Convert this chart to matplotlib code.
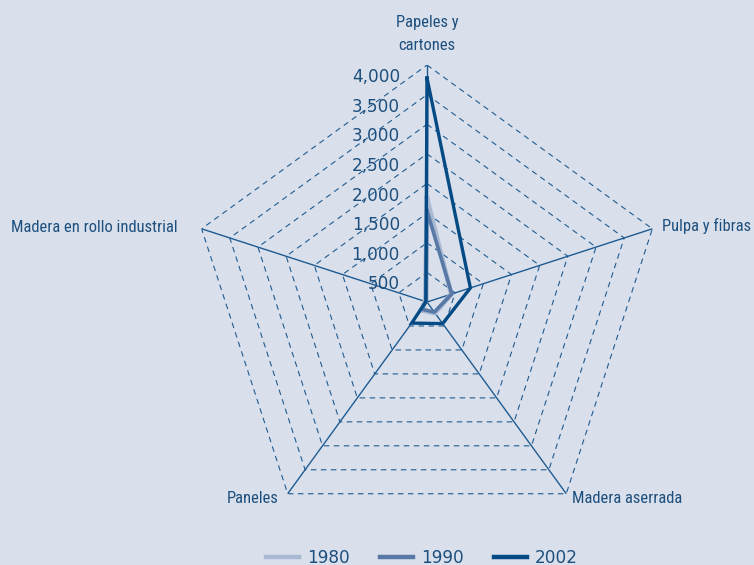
# Radar chart: forest products by year

import numpy as np
import matplotlib
matplotlib.use('Agg')
import matplotlib.pyplot as plt
from matplotlib import font_manager as fm
from matplotlib.transforms import offset_copy

# %%
# Data
categories = ['Papeles y\ncartones', 'Pulpa y fibras', 'Madera aserrada',
              'Paneles', 'Madera en rollo industrial']
years = ['1980', '1990', '2002']
v1980 = [1750, 430, 230, 170, 30]
v1990 = [1540, 440, 210, 150, 20]
v2002 = [3780, 770, 450, 440, 20]
ticks = [500, 1000, 1500, 2000, 2500, 3000, 3500, 4000]
tick_labels = ['500', '1,000', '1,500', '2,000', '2,500', '3,000', '3,500', '4,000']

# %%
# Pick a condensed face for the category labels if one is around
have = {f.name for f in fm.fontManager.ttflist}
cond = None
for c in ['Roboto Condensed', 'Fira Sans Condensed', 'Open Sans Condensed',
          'PT Sans Narrow', 'Encode Sans Condensed', 'Barlow Semi Condensed',
          'Asap Condensed', 'Archivo Narrow', 'Liberation Sans Narrow']:
    if c in have:
        cond = c
        break
if cond:
    lab_font, lab_size = [cond, 'DejaVu Sans'], 11.9
else:
    lab_font, lab_size = ['Roboto', 'DejaVu Sans'], 10

# %%
# Style
bg = '#d9e0eb'
txt = '#1d4f7e'
grid_c = '#1f5b92'
colors = ['#a9b9d3', '#5878a6', '#044a84']
widths = [3.4, 2.6, 2.4]

fig = plt.figure(figsize=(7.54, 5.65), dpi=100, facecolor=bg)
ax = fig.add_axes([0.252, 0.046, 0.6286, 0.8389], projection='polar')
ax.set_facecolor('none')
ax.set_theta_zero_location('N')
ax.set_theta_direction(-1)
ax.set_ylim(0, 4000)
ax.grid(False)
ax.spines['polar'].set_visible(False)
ax.set_xticks([])
ax.set_yticks([])

n = len(categories)
theta = np.arange(n) * 2 * np.pi / n
theta_c = np.append(theta, theta[0])

# rings
for r in ticks:
    ax.plot(theta_c, [r] * (n + 1), color=grid_c, lw=0.8,
            ls=(0, (5, 4)), zorder=1)
# spokes
for t in theta:
    ax.plot([t, t], [0, 4000], color=grid_c, lw=1.0, zorder=1)

# series
for name, vals, c, w in zip(years, [v1980, v1990, v2002], colors, widths):
    ax.plot(theta_c, vals + vals[:1], color=c, lw=w, label=name,
            solid_joinstyle='miter', zorder=3)

# tick labels on the upper axis
tlab = offset_copy(ax.transData, fig=fig, x=-27, y=-12, units='dots')
for r, s in zip(ticks, tick_labels):
    ax.text(0, r, s, transform=tlab, ha='right', va='center',
            fontsize=12.2, color=txt, family='DejaVu Sans')

# category labels
offs = [(0, 12, 'center', 'bottom'), (10, 3, 'left', 'center'),
        (6, -5, 'left', 'center'), (-9, -5, 'right', 'center'),
        (-24, 1, 'right', 'center')]
for t, lab, (dx, dy, ha, va) in zip(theta, categories, offs):
    tr = offset_copy(ax.transData, fig=fig, x=dx, y=dy, units='dots')
    ax.text(t, 4000, lab, transform=tr, ha=ha, va=va, fontsize=lab_size,
            color=txt, family=lab_font, linespacing=1.7)

# legend
leg = fig.legend(loc='lower center', bbox_to_anchor=(0.56, -0.03), ncol=3,
                 frameon=False, handlelength=1.9, handletextpad=0.5,
                 columnspacing=1.8,
                 prop={'family': 'DejaVu Sans', 'size': 12.2})
for h in leg.get_lines():
    h.set_linewidth(3.2)
for t in leg.get_texts():
    t.set_color(txt)

fig.savefig('out.png', dpi=100, facecolor=bg)
